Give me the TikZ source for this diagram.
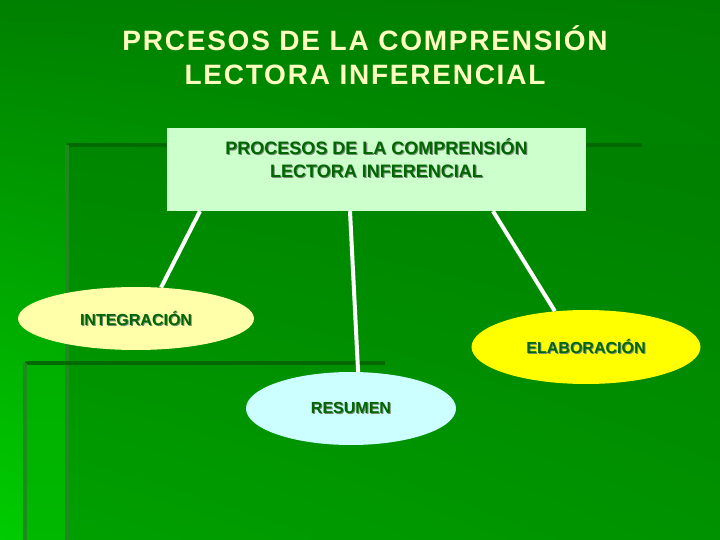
\documentclass[tikz,border=0pt]{standalone}
\usepackage{fontspec}
\setmainfont{Liberation Sans}
\usetikzlibrary{shapes.geometric,shadings}
\definecolor{titlec}{HTML}{FFFFC0}
\definecolor{txtc}{HTML}{006600}
\definecolor{shc}{HTML}{7A8A7A}
\definecolor{boxc}{HTML}{CCFFCC}
\definecolor{integc}{HTML}{FFFFAA}
\definecolor{resc}{HTML}{CCFFFF}
\definecolor{elabc}{HTML}{FFFF00}
\definecolor{lineA}{HTML}{006A00}
\definecolor{lineB}{HTML}{1E8A1E}
\definecolor{bgUL}{HTML}{008000}
\definecolor{bgUR}{HTML}{007D00}
\definecolor{bgLL}{HTML}{00CC00}
\definecolor{bgLR}{HTML}{009200}
\definecolor{inUL}{HTML}{008600}
\definecolor{inUR}{HTML}{008000}
\definecolor{inLL}{HTML}{00A000}
\definecolor{inLR}{HTML}{009200}
\definecolor{stT}{HTML}{00B000}
\definecolor{stB}{HTML}{00B800}
\newcommand\shtx[1]{\leavevmode\rlap{\kern1pt\raisebox{-1pt}{\textcolor{shc}{#1}}}#1}
\tikzset{
  x=1pt,y=-1pt,
  titletext/.style={text=titlec,font=\fontsize{28}{34}\selectfont\bfseries\addfontfeature{LetterSpace=6.3},align=center,inner sep=0},
  mainbox/.style={rectangle,fill=boxc,minimum width=419,minimum height=83,inner sep=0,text=txtc,font=\fontsize{18}{23}\selectfont\bfseries},
  bubble/.style={ellipse,inner sep=0,text=txtc,font=\fontsize{16}{18}\selectfont\bfseries},
  conn/.style={draw=white,line width=4pt},
  bgline/.style={line width=3.5pt}
}
\begin{document}
\begin{tikzpicture}
\useasboundingbox (0,0) rectangle (720,540);
% background
\shade[upper left=bgUL,upper right=bgUR,lower left=bgLL,lower right=bgLR] (0,0) rectangle (720,540);
\shade[upper left=inUL,upper right=inUR,lower left=inLL,lower right=inLR] (67,145) rectangle (720,540);
\shade[top color=stT,bottom color=stB] (25,363) rectangle (67,540);
\draw[bgline,draw=lineA] (67,145) -- (642,145);
\draw[bgline,draw=lineB] (67,145) -- (67,540);
\draw[bgline,draw=lineA] (25,363) -- (385,363);
\draw[bgline,draw=lineB] (25,363) -- (25,540);
% title
\node[titletext] (title) at (365,55) {PRCESOS DE LA COMPRENSIÓN\\LECTORA INFERENCIAL};
% main box
\node[mainbox] (b) at (376.5,169.5) {\parbox[t][71pt][t]{410pt}{\centering\vspace{5pt}\shtx{PROCESOS DE LA COMPRENSIÓN}\\\shtx{LECTORA INFERENCIAL}}};
% ellipses
\node[bubble,fill=integc,minimum width=236,minimum height=63] (integ) at (136,318.5) {\shtx{INTEGRACIÓN}};
\node[bubble,fill=elabc,minimum width=229,minimum height=74] (elab) at (586,347) {\shtx{ELABORACIÓN}};
\node[bubble,fill=resc,minimum width=210,minimum height=73] (res) at (351,408.5) {\shtx{RESUMEN}};
% connectors
\draw[conn] ([xshift=-176.5]b.south) -- (integ.51);
\draw[conn] ([xshift=-26.5]b.south) -- (res.79);
\draw[conn] ([xshift=116.5]b.south) -- (elab.131);
\end{tikzpicture}
\end{document}
